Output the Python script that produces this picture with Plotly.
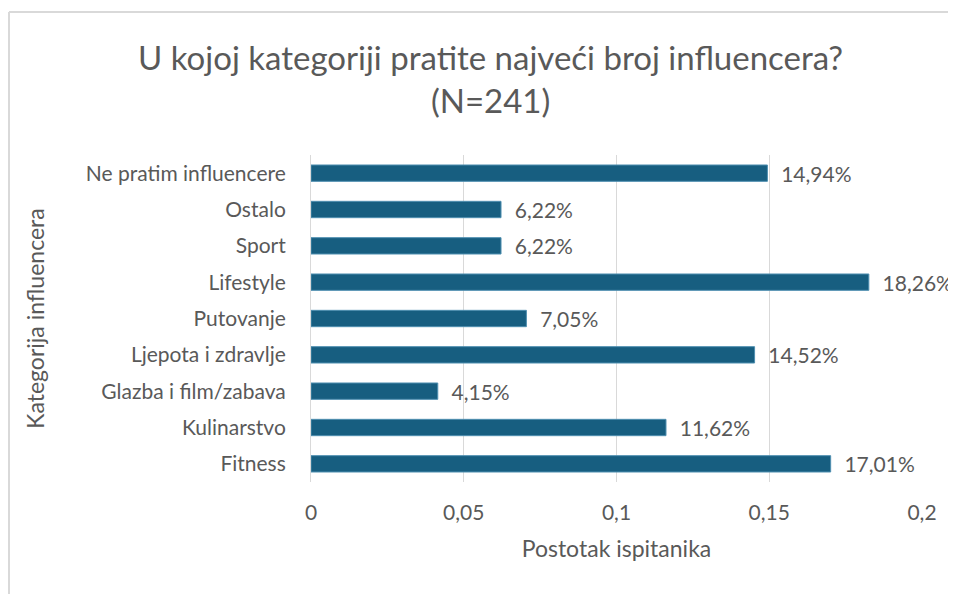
import plotly.graph_objects as go

categories = ["Ne pratim influencere", "Ostalo", "Sport", "Lifestyle", "Putovanje",
              "Ljepota i zdravlje", "Glazba i film/zabava", "Kulinarstvo", "Fitness"]
values = [0.1494, 0.0622, 0.0622, 0.1826, 0.0705, 0.1452, 0.0415, 0.1162, 0.1701]
x_ticks = [0, 0.05, 0.1, 0.15, 0.2]
title_text = "U kojoj kategoriji pratite najveći broj influencera?<br>(N=241)"

FONT = "Lato"
GREY = "#595959"

# page body has an 8px margin, so the figure is sized/offset to land at the reference positions
W, H = 948, 586
L, R, T, B = 303, 34, 147, 112
PW, PH = W - L - R, H - T - B

fig = go.Figure(go.Bar(
    x=values, y=categories, orientation="h",
    marker=dict(color="#175e80", line=dict(color="#4f8fb0", width=1)),
    width=0.45,
    texttemplate="  %{x:.2%}", textposition="outside", constraintext="none",
    textfont=dict(family=FONT, size=21, color=GREY),
    cliponaxis=False, hoverinfo="skip",
))

fig.update_layout(
    width=W, height=H,
    margin=dict(l=L, r=R, t=T, b=B),
    paper_bgcolor="white", plot_bgcolor="white",
    separators=",.",
    showlegend=False,
    font=dict(family=FONT, color=GREY),
)
fig.add_annotation(text=title_text, xref="paper", yref="paper",
                   x=(490 - 8 - L) / PW, y=(PH + T - 70) / PH,
                   xanchor="center", yanchor="middle", showarrow=False,
                   font=dict(family=FONT, size=33, color=GREY))

fig.update_xaxes(range=[0, 0.2], tickvals=x_ticks, showgrid=True, gridcolor="#d9d9d9",
                 gridwidth=1, zeroline=False, showline=False,
                 tickfont=dict(family=FONT, size=21, color=GREY), ticklabelstandoff=16,
                 title=dict(text="Postotak ispitanika", font=dict(family=FONT, size=23, color=GREY),
                            standoff=17))
fig.update_yaxes(categoryorder="array", categoryarray=categories[::-1],
                 showgrid=False, showline=True, linecolor="#d9d9d9", linewidth=1,
                 tickfont=dict(family=FONT, size=21, color=GREY), ticklabelstandoff=20,
                 title=dict(text="Kategorija influencera", font=dict(family=FONT, size=23, color=GREY),
                            standoff=34))

# chart frame (left and top edges visible)
fx = (1 - L) / PW
fy = (PH + T - 4) / PH
fig.add_shape(type="line", xref="paper", yref="paper", x0=fx, x1=2, y0=fy, y1=fy,
              line=dict(color="#d9d9d9", width=2))
fig.add_shape(type="line", xref="paper", yref="paper", x0=fx, x1=fx, y0=fy, y1=-1,
              line=dict(color="#d9d9d9", width=2))

fig.write_html("out.html")
